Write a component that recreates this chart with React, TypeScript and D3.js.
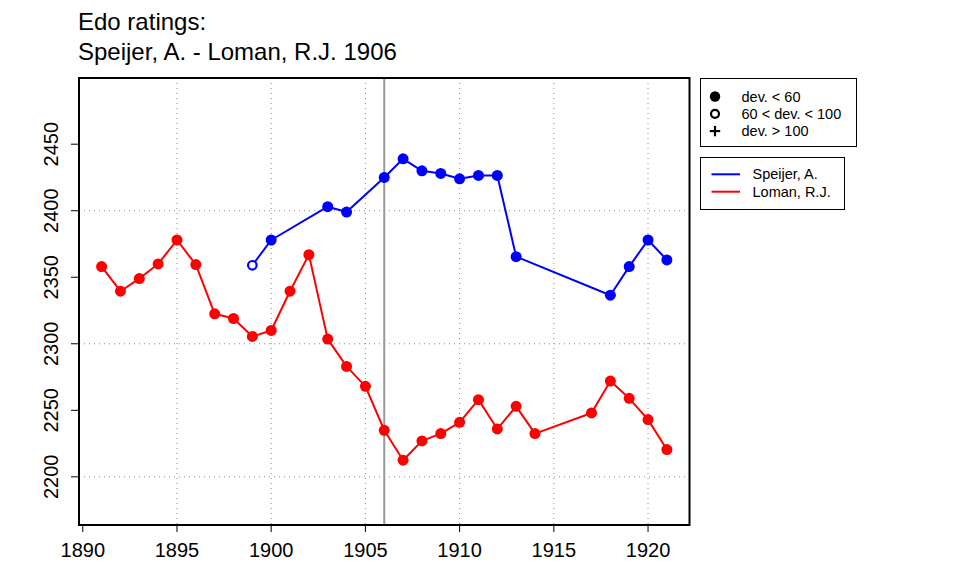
import React from "react";
import * as d3 from "d3";

const speijerYears = [1899, 1900, 1903, 1904, 1906, 1907, 1908, 1909, 1910, 1911, 1912, 1913, 1918, 1919, 1920, 1921];
const speijerRatings = [2359, 2378, 2403, 2399, 2425, 2439, 2430, 2428, 2424, 2426.5, 2426.5, 2365.5, 2336.5, 2358, 2378, 2363];
const speijerDevClass = [1, 0, 0, 0, 0, 0, 0, 0, 0, 0, 0, 0, 0, 0, 0, 0];

const lomanYears = [1891, 1892, 1893, 1894, 1895, 1896, 1897, 1898, 1899, 1900, 1901, 1902, 1903, 1904, 1905, 1906, 1907, 1908, 1909, 1910, 1911, 1912, 1913, 1914, 1917, 1918, 1919, 1920, 1921];
const lomanRatings = [2358, 2339.5, 2349, 2360, 2378, 2359.5, 2322.5, 2319, 2305.5, 2310, 2339.5, 2367, 2303.5, 2283, 2268, 2235, 2212.5, 2227, 2232.5, 2241, 2258, 2236, 2253, 2232.5, 2248, 2272, 2259, 2243, 2220.5];
const lomanDevClass = [0, 0, 0, 0, 0, 0, 0, 0, 0, 0, 0, 0, 0, 0, 0, 0, 0, 0, 0, 0, 0, 0, 0, 0, 0, 0, 0, 0, 0];

const xTicks = [1890, 1895, 1900, 1905, 1910, 1915, 1920];
const xGrid = [1895, 1900, 1905, 1910, 1915, 1920];
const yTicks = [2200, 2250, 2300, 2350, 2400, 2450];
const yGrid = [2200, 2300, 2400];
const gameYear = 1906;

const titleLines = ["Edo ratings:", "Speijer, A. - Loman, R.J. 1906"];
const devLabels = ["dev. < 60", "60 < dev. < 100", "dev. > 100"];
const playerLabels = ["Speijer, A.", "Loman, R.J."];
const playerColors = ["#0000ff", "#ff0000"];

const FONT = "'Liberation Sans', Arial, Helvetica, sans-serif";

export default function App() {
  const left = 79, right = 689.5, top = 78, bottom = 525;
  const x = d3.scaleLinear().domain([1889.8, 1922.2]).range([left, right]);
  const y = d3.scaleLinear().domain([2163.8, 2499.75]).range([bottom, top]);

  const series = [
    { years: speijerYears, vals: speijerRatings, dev: speijerDevClass, color: playerColors[0] },
    { years: lomanYears, vals: lomanRatings, dev: lomanDevClass, color: playerColors[1] },
  ];

  const line = d3.line<[number, number]>().x((d) => x(d[0])).y((d) => y(d[1]));

  const marker = (cls: number, cx: number, cy: number, color: string, key: string, r = 5.5) => {
    if (cls === 0) return <circle key={key} cx={cx} cy={cy} r={r} fill={color} />;
    if (cls === 1) return <circle key={key} cx={cx} cy={cy} r={r - 1.2} fill="white" stroke={color} strokeWidth={2.2} />;
    return (
      <g key={key} stroke={color} strokeWidth={2.2}>
        <line x1={cx - r} x2={cx + r} y1={cy} y2={cy} />
        <line x1={cx} x2={cx} y1={cy - r} y2={cy + r} />
      </g>
    );
  };

  return (
    <svg width={960} height={576} style={{ position: "absolute", left: 0, top: 0, background: "white" }} fontFamily={FONT}>
      <rect x={0} y={0} width={960} height={576} fill="white" />
      {titleLines.map((t, i) => (
        <text key={t} x={78} y={29.5 + i * 30.5} fontSize={24} fill="#000">{t}</text>
      ))}

      {/* grid */}
      {xGrid.map((v) => (
        <line key={"gx" + v} x1={x(v)} x2={x(v)} y1={top} y2={bottom} stroke="#888" strokeWidth={1} strokeDasharray="1,4" />
      ))}
      {yGrid.map((v) => (
        <line key={"gy" + v} x1={left} x2={right} y1={y(v)} y2={y(v)} stroke="#888" strokeWidth={1} strokeDasharray="1,4" />
      ))}

      {/* game year line */}
      <line x1={x(gameYear)} x2={x(gameYear)} y1={top} y2={bottom} stroke="#999" strokeWidth={2} />

      {/* series */}
      {series.map((s, si) => (
        <g key={"s" + si}>
          <path d={line(s.years.map((yr, i) => [yr, s.vals[i]] as [number, number])) || ""} fill="none" stroke={s.color} strokeWidth={2} strokeLinejoin="round" />
          {s.years.map((yr, i) => marker(s.dev[i], x(yr), y(s.vals[i]), s.color, "m" + si + "-" + i))}
        </g>
      ))}

      {/* box */}
      <rect x={left} y={top} width={right - left} height={bottom - top} fill="none" stroke="#000" strokeWidth={2} />

      {/* x axis */}
      {xTicks.map((v) => (
        <g key={"xt" + v}>
          <line x1={x(v)} x2={x(v)} y1={bottom} y2={bottom + 7} stroke="#000" strokeWidth={1} />
          <text x={x(v)} y={556.7} fontSize={20} textAnchor="middle" fill="#000">{v}</text>
        </g>
      ))}
      {/* y axis */}
      {yTicks.map((v) => (
        <g key={"yt" + v}>
          <line x1={left - 8} x2={left} y1={y(v)} y2={y(v)} stroke="#000" strokeWidth={1} />
          <text transform={`translate(57.5,${y(v)}) rotate(-90)`} fontSize={20} textAnchor="middle" fill="#000">{v}</text>
        </g>
      ))}

      {/* legend 1 */}
      <rect x={700.5} y={78.5} width={156} height={68} fill="white" stroke="#000" strokeWidth={1} />
      {devLabels.map((t, i) => (
        <g key={t}>
          {marker(i, 715, 96.5 + i * 17.3, "#000", "lm" + i, 5.2)}
          <text x={741.5} y={101.5 + i * 17.3} fontSize={14.5} fill="#000">{t}</text>
        </g>
      ))}

      {/* legend 2 */}
      <rect x={700.5} y={157.5} width={144} height={52} fill="white" stroke="#000" strokeWidth={1} />
      {playerLabels.map((t, i) => (
        <g key={t}>
          <line x1={711.5} x2={740} y1={174.3 + i * 17.4} y2={174.3 + i * 17.4} stroke={playerColors[i]} strokeWidth={2} />
          <text x={752.5} y={179.3 + i * 17.4} fontSize={14.5} fill="#000">{t}</text>
        </g>
      ))}
    </svg>
  );
}
